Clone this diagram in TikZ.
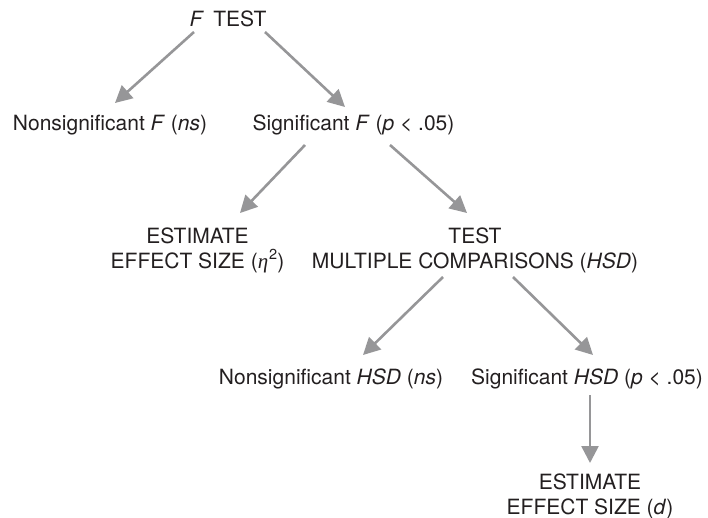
\documentclass[tikz,border=0pt]{standalone}
\usepackage{fontspec}
\setmainfont{TeX Gyre Heros}
\newfontfamily\greekserif{Liberation Serif}
\usetikzlibrary{arrows.meta,calc}
\definecolor{arrowgray}{RGB}{150,150,152}
\definecolor{txt}{RGB}{35,31,32}
\newcommand{\etasq}{{\greekserif\itshape η}\kern0.05em\raisebox{0.42em}{\fontsize{14.5}{14.5}\selectfont 2}}
\begin{document}
\begin{tikzpicture}[x=1pt,y=-1pt,
  lbl/.style={font=\fontsize{21}{24.5}\selectfont, text=txt, inner sep=0pt, align=center},
  arr/.style={draw=arrowgray, line width=2.6pt, -{Triangle[length=17pt,width=17pt,fill=arrowgray]}}]
\useasboundingbox (0,0) rectangle (708,518);

\node[lbl, anchor=base] (ftest) at (228,27) {\textit{F}\hspace{0.45em}TEST};
\node[lbl, anchor=base] (nsF) at (110,131) {Nonsignificant \textit{F} (\textit{ns})};
\node[lbl, anchor=base] (sigF) at (353.5,131) {Significant \textit{F} (\textit{p} < .05)};
\node[lbl, anchor=north] (est1) at (197.5,228) {ESTIMATE\\EFFECT SIZE (\etasq)};
\node[lbl, anchor=north] (test2) at (475,228) {TEST\\MULTIPLE COMPARISONS (\textit{HSD})};
\node[lbl, anchor=base] (nsHSD) at (331,384) {Nonsignificant \textit{HSD} (\textit{ns})};
\node[lbl, anchor=base] (sigHSD) at (587,384) {Significant \textit{HSD} (\textit{p} < .05)};
\node[lbl, anchor=north] (est2) at (590,474) {ESTIMATE\\EFFECT SIZE (\textit{d})};

\draw[arr] ($(ftest.base)+(-34,5)$) -- ($(nsF.base)+(5,-28)$);
\draw[arr] ($(ftest.base)+(37,5)$) -- ($(sigF.base)+(-8.5,-24)$);
\draw[arr] ($(sigF.base)+(-48.5,14)$) -- ($(est1.north)+(42.5,-15)$);
\draw[arr] ($(sigF.base)+(36.5,14)$) -- ($(test2.north)+(-8,-15)$);
\draw[arr] ($(test2.north)+(-32,49)$) -- ($(nsHSD.base)+(32,-29)$);
\draw[arr] ($(test2.north)+(38,49)$) -- ($(sigHSD.base)+(6,-29)$);
\draw[arr] ($(sigHSD.base)+(3,11)$) -- ($(est2.north)+(0,-11)$);
\end{tikzpicture}
\end{document}
